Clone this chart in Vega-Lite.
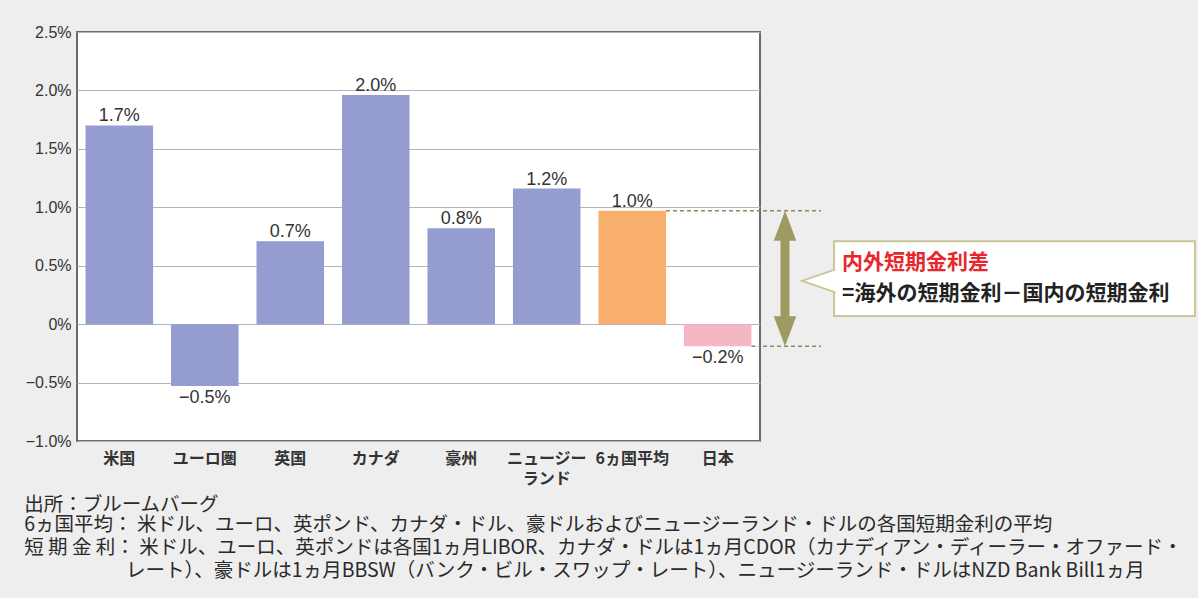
{
  "$schema": "https://vega.github.io/schema/vega-lite/v6.json",
  "background": "#eeeeee",
  "padding": {"left": 24, "top": 23, "right": 0, "bottom": 18},
  "datasets": {
    "rates": [
      {"region": "米国", "rate": 1.70},
      {"region": "ユーロ圏", "rate": -0.53},
      {"region": "英国", "rate": 0.71},
      {"region": "カナダ", "rate": 1.96},
      {"region": "豪州", "rate": 0.82},
      {"region": "ニュージーランド", "rate": 1.16},
      {"region": "6ヵ国平均", "rate": 0.97},
      {"region": "日本", "rate": -0.19}
    ]
  },
  "title": {
    "text": "出所：ブルームバーグ",
    "subtitle": [
      "6ヵ国平均： 米ドル、ユーロ、英ポンド、カナダ・ドル、豪ドルおよびニュージーランド・ドルの各国短期金利の平均",
      "短 期 金 利： 米ドル、ユーロ、英ポンドは各国1ヵ月LIBOR、カナダ・ドルは1ヵ月CDOR（カナディアン・ディーラー・オファード・",
      "‍　　　　　  レート）、豪ドルは1ヵ月BBSW（バンク・ビル・スワップ・レート）、ニュージーランド・ドルはNZD Bank Bill1ヵ月"
    ],
    "orient": "bottom",
    "anchor": "start",
    "frame": "bounds",
    "font": "Noto Sans CJK JP",
    "subtitleFont": "Noto Sans CJK JP",
    "fontSize": 19.5,
    "subtitleFontSize": 19.5,
    "fontWeight": "normal",
    "subtitleFontWeight": "normal",
    "color": "#2a2a2a",
    "subtitleColor": "#2a2a2a",
    "subtitleLineHeight": 23,
    "subtitlePadding": 0,
    "offset": 9,
    "limit": 1300
  },
  "spacing": 0,
  "hconcat": [
    {
      "width": 683,
      "height": 409,
      "view": {"fill": "white", "stroke": "#6b6b6b", "strokeWidth": 2},
      "data": {"name": "rates"},
      "transform": [{"calculate": "format(datum.rate, '.1f') + '%'", "as": "label"}],
      "layer": [
        {
          "mark": {"type": "bar"},
          "encoding": {
            "x": {
              "field": "region", "type": "nominal", "sort": null,
              "scale": {"domain": ["米国", "ユーロ圏", "英国", "カナダ", "豪州", "ニュージーランド", "6ヵ国平均", "日本"], "paddingInner": 0.21, "paddingOuter": 0.1},
              "axis": {
                "title": null, "labelAngle": 0, "ticks": false, "domain": false,
                "labelFont": "Noto Sans CJK JP", "labelFontSize": 16, "labelFontWeight": "bold",
                "labelColor": "#333333", "labelPadding": 9, "labelBaseline": "top", "labelLineHeight": 20,
                "labelExpr": "datum.value == 'ニュージーランド' ? ['ニュージー', 'ランド'] : datum.label"
              }
            },
            "y": {
              "field": "rate", "type": "quantitative",
              "scale": {"domain": [-1, 2.5], "nice": false},
              "axis": {
                "title": null, "values": [-1, -0.5, 0, 0.5, 1, 1.5, 2, 2.5],
                "labelExpr": "datum.value == 0 ? '0%' : format(datum.value, '.1f') + '%'",
                "ticks": false, "domain": false, "grid": true, "gridColor": "#b5b5b5", "gridWidth": 1,
                "labelFont": "Liberation Sans", "labelFontSize": 16, "labelColor": "#333333", "labelPadding": 6
              }
            },
            "color": {
              "field": "region", "type": "nominal", "legend": null,
              "scale": {
                "domain": ["米国", "ユーロ圏", "英国", "カナダ", "豪州", "ニュージーランド", "6ヵ国平均", "日本"],
                "range": ["#959ccf", "#959ccf", "#959ccf", "#959ccf", "#959ccf", "#959ccf", "#f8ae6c", "#f5b7c3"]
              }
            }
          }
        },
        {
          "transform": [{"filter": "datum.rate >= 0"}],
          "mark": {"type": "text", "baseline": "alphabetic", "dy": -4, "font": "Liberation Sans", "fontSize": 18, "color": "#333333"},
          "encoding": {
            "x": {"field": "region", "type": "nominal", "sort": null},
            "y": {"field": "rate", "type": "quantitative"},
            "text": {"field": "label"}
          }
        },
        {
          "transform": [{"filter": "datum.rate < 0"}],
          "mark": {"type": "text", "baseline": "top", "dy": 3, "font": "Liberation Sans", "fontSize": 18, "color": "#333333"},
          "encoding": {
            "x": {"field": "region", "type": "nominal", "sort": null},
            "y": {"field": "rate", "type": "quantitative"},
            "text": {"field": "label"}
          }
        },
        {
          "transform": [{"filter": "datum.region == '6ヵ国平均' || datum.region == '日本'"}],
          "mark": {"type": "rule", "color": "#8d8a62", "strokeWidth": 1.5, "strokeDash": [4, 3]},
          "encoding": {
            "x": {"field": "region", "type": "nominal", "sort": null, "bandPosition": 1},
            "x2": {"value": "width"},
            "y": {"field": "rate", "type": "quantitative"}
          }
        }
      ]
    },
    {
      "width": 435,
      "height": 409,
      "view": {"stroke": null, "fill": null},
      "layer": [
        {
          "data": {"name": "rates"},
          "transform": [{"filter": "datum.region == '6ヵ国平均' || datum.region == '日本'"}],
          "mark": {"type": "rule", "color": "#8d8a62", "strokeWidth": 1.5, "strokeDash": [4, 3]},
          "encoding": {
            "x": {"datum": 0, "type": "quantitative", "scale": {"domain": [0, 435], "nice": false}, "axis": null},
            "x2": {"datum": 58},
            "y": {"field": "rate", "type": "quantitative", "scale": {"domain": [-1, 2.5], "nice": false}, "axis": null}
          }
        },
        {
          "data": {"values": [{"part": "shaft"}]},
          "mark": {"type": "rule", "color": "#9e9a62", "strokeWidth": 9, "strokeCap": "butt"},
          "encoding": {
            "x": {"datum": 22, "type": "quantitative", "scale": {"domain": [0, 435], "nice": false}, "axis": null},
            "y": {"datum": 0.82, "type": "quantitative", "scale": {"domain": [-1, 2.5], "nice": false}, "axis": null},
            "y2": {"datum": -0.04}
          }
        },
        {
          "data": {"name": "rates"},
          "transform": [{"filter": "datum.region == '6ヵ国平均'"}],
          "mark": {"type": "point", "shape": "M0,0L0.9,2.4L-0.9,2.4Z", "size": 625, "filled": true, "color": "#9e9a62", "opacity": 1},
          "encoding": {
            "x": {"datum": 22, "type": "quantitative", "scale": {"domain": [0, 435], "nice": false}, "axis": null},
            "y": {"field": "rate", "type": "quantitative", "scale": {"domain": [-1, 2.5], "nice": false}, "axis": null}
          }
        },
        {
          "data": {"name": "rates"},
          "transform": [{"filter": "datum.region == '日本'"}],
          "mark": {"type": "point", "shape": "M0,0L0.9,-2.4L-0.9,-2.4Z", "size": 625, "filled": true, "color": "#9e9a62", "opacity": 1},
          "encoding": {
            "x": {"datum": 22, "type": "quantitative", "scale": {"domain": [0, 435], "nice": false}, "axis": null},
            "y": {"field": "rate", "type": "quantitative", "scale": {"domain": [-1, 2.5], "nice": false}, "axis": null}
          }
        },
        {
          "data": {"values": [{"part": "box"}]},
          "mark": {"type": "rect", "fill": "white", "stroke": "#cdc697", "strokeWidth": 2},
          "encoding": {
            "x": {"datum": 71, "type": "quantitative", "scale": {"domain": [0, 435], "nice": false}, "axis": null},
            "x2": {"datum": 432},
            "y": {"datum": 0.71, "type": "quantitative", "scale": {"domain": [-1, 2.5], "nice": false}, "axis": null},
            "y2": {"datum": 0.07}
          }
        },
        {
          "data": {"values": [{"part": "tail"}]},
          "mark": {"type": "point", "shape": "M0,-1L-2.9,0L0,1", "size": 529, "filled": true, "fill": "white", "stroke": "#cdc697", "strokeWidth": 2, "opacity": 1},
          "encoding": {
            "x": {"datum": 72.5, "type": "quantitative", "scale": {"domain": [0, 435], "nice": false}, "axis": null},
            "y": {"datum": 0.37, "type": "quantitative", "scale": {"domain": [-1, 2.5], "nice": false}, "axis": null}
          }
        },
        {
          "data": {"values": [{"note": "内外短期金利差"}]},
          "mark": {"type": "text", "align": "left", "baseline": "middle", "font": "Noto Sans CJK JP", "fontSize": 21, "fontWeight": "bold", "color": "#e8262b"},
          "encoding": {
            "x": {"datum": 79, "type": "quantitative", "scale": {"domain": [0, 435], "nice": false}, "axis": null},
            "y": {"datum": 0.52, "type": "quantitative", "scale": {"domain": [-1, 2.5], "nice": false}, "axis": null},
            "text": {"field": "note"}
          }
        },
        {
          "data": {"values": [{"note": "=海外の短期金利－国内の短期金利"}]},
          "mark": {"type": "text", "align": "left", "baseline": "middle", "font": "Noto Sans CJK JP", "fontSize": 21, "fontWeight": "bold", "color": "#222222"},
          "encoding": {
            "x": {"datum": 79, "type": "quantitative", "scale": {"domain": [0, 435], "nice": false}, "axis": null},
            "y": {"datum": 0.26, "type": "quantitative", "scale": {"domain": [-1, 2.5], "nice": false}, "axis": null},
            "text": {"field": "note"}
          }
        }
      ]
    }
  ]
}
